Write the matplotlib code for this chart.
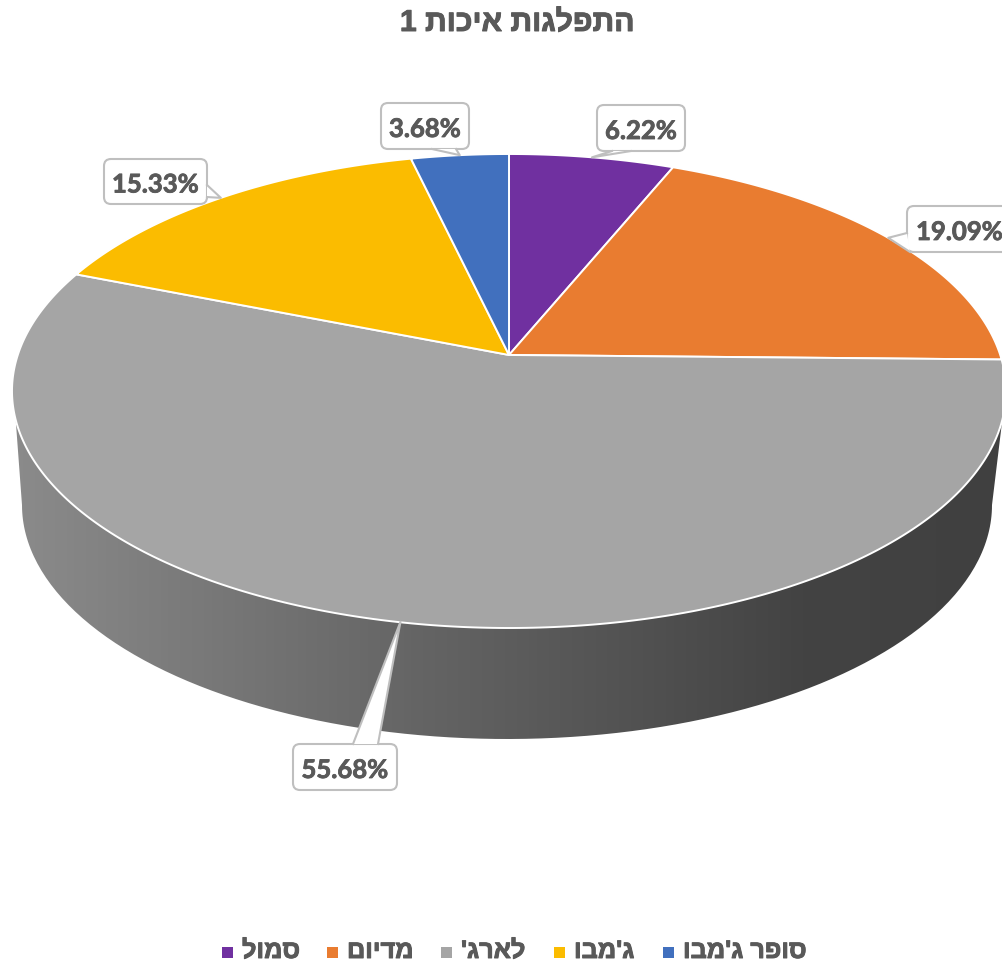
import numpy as np
import matplotlib
import matplotlib.pyplot as plt
import matplotlib.patheffects as pe
from matplotlib.colors import LinearSegmentedColormap
from matplotlib.patches import FancyBboxPatch, PathPatch, Polygon
from matplotlib.path import Path

matplotlib.use("Agg")

# clockwise from 12 o'clock
categories = ["סמול", "מדיום", "לארג'", "ג'מבו", "סופר ג'מבו"]
shares = [6.22, 19.09, 55.68, 15.33, 3.68]
colors = ["#7030A0", "#E97C30", "#A5A5A5", "#FBBC00", "#4170BE"]
title = "התפלגות איכות 1"

# layout in picture pixels
CX, CY, RX, RY = 509, 391, 497, 237
TILT = 0.152  # moves the pie centre up the ellipse, perspective of the top face
BOTTOM = (507, 505, 485, 234)
TEXT = "#595959"
EDGE = "#BFBFBF"

# x0, y0, x1, y1 of each callout and the two points where the tail leaves it
boxes = [(597, 105, 685, 151), (907, 206, 1012, 252), (293, 744, 397, 790), (104, 159, 207, 204), (381, 103, 469, 149)]
tails = [((612, 151), (631, 151)), ((907, 233), (910, 252)), ((353, 744), (378, 744)), ((207, 185), (207, 197)), ((432, 149), (456, 149))]
tip_nudge = [0, 0, 5, 0, 0]
legend_marks = [228, 333, 447, 560, 669]


def rtl(text):
    # matplotlib has no bidi support, Hebrew goes in visual order
    return text[::-1]


def project(pct):
    angle = np.radians(np.asarray(pct) * 3.6)
    s, c = np.sin(angle), np.cos(angle)
    d = 1 + TILT * c
    x = s * np.sqrt(1 - TILT ** 2) / d
    y = (c + TILT) / d
    return CX + RX * x, CY - RY * y


def ellipse(cx, cy, rx, ry, t0, t1):
    t = np.radians(np.linspace(t0, t1, 200))
    return np.column_stack([cx + rx * np.cos(t), cy + ry * np.sin(t)])


def heavy(width):
    return [pe.withStroke(linewidth=width, foreground=TEXT)]


fig = plt.figure(figsize=(10.03, 9.66), dpi=100)
ax = fig.add_axes([0, 0, 1, 1])

# side of the disc
side = np.vstack([ellipse(CX, CY, RX, RY, 173, 7), ellipse(*BOTTOM, 0, 180)])
ramp = LinearSegmentedColormap.from_list("side", [(0, "#8C8C8C"), (0.4, "#666666"), (0.8, "#434343"), (1, "#404040")])
im = ax.imshow(np.linspace(0, 1, 256).reshape(1, -1), extent=(0, 1003, 966, 0), cmap=ramp, aspect="auto", zorder=1)
clip = PathPatch(Path(side), transform=ax.transData, fc="none", ec="none")
ax.add_patch(clip)
im.set_clip_path(clip)

# top face
edges = np.concatenate([[0], np.cumsum(shares)])
for start, end, color in zip(edges[:-1], edges[1:], colors):
    xs, ys = project(np.linspace(start, end, 300))
    apex = CX, CY - RY * TILT
    pts = np.vstack([[apex], np.column_stack([xs, ys])])
    ax.add_patch(Polygon(pts, closed=True, fc=color, ec="white", lw=1.4, joinstyle="round", zorder=2))

# callouts, the tail tip sits on the middle of the wedge's rim
mids = edges[:-1] + np.array(shares) / 2
for share, mid, box, tail, nudge in zip(shares, mids, boxes, tails, tip_nudge):
    x0, y0, x1, y1 = box
    tip = project(mid)
    tip = tip[0] + nudge, tip[1]
    ax.add_patch(FancyBboxPatch((x0, y0), x1 - x0, y1 - y0, boxstyle="round,pad=0,rounding_size=7",
                                fc="white", ec=EDGE, lw=1.5, zorder=3, clip_on=False))
    ax.add_patch(Polygon([tail[0], tip, tail[1]], closed=True, fc="white", ec="none", zorder=4))
    ax.plot([tail[0][0], tip[0], tail[1][0]], [tail[0][1], tip[1], tail[1][1]], color=EDGE, lw=1.5, zorder=5)
    ax.text((x0 + x1) / 2, (y0 + y1) / 2 + 1, f"{share:.2f}%", ha="center", va="center_baseline",
            family="Lato", weight="bold", size=18.5, color=TEXT, zorder=6, path_effects=heavy(0.6))

ax.text(517, 23, rtl(title), ha="center", va="center", family="Liberation Sans", weight="bold", size=21.7, color=TEXT,
        path_effects=heavy(0.7))

for name, color, x in zip(categories, colors, legend_marks):
    ax.add_patch(Polygon([(x - 5.5, 947), (x + 5.5, 947), (x + 5.5, 958), (x - 5.5, 958)], closed=True, fc=color, ec="none"))
    ax.text(x + 14, 958, rtl(name), ha="left", va="baseline", family="Liberation Sans", weight="bold", size=18.2, color=TEXT,
            path_effects=heavy(0.7))

ax.set_xlim(0, 1003)
ax.set_ylim(966, 0)
ax.axis("off")
fig.savefig("out.png", dpi=100)
